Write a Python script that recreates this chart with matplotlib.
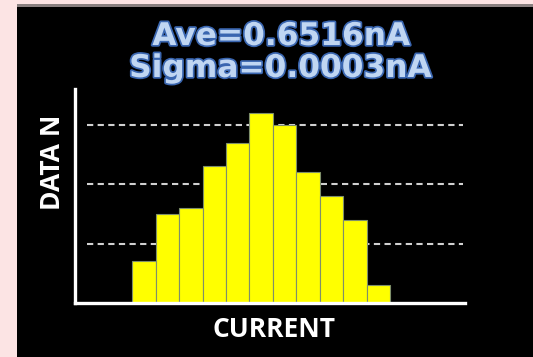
import matplotlib
matplotlib.use("Agg")
import matplotlib.pyplot as plt
import matplotlib.patheffects as pe
from matplotlib.patches import Rectangle

# ---- data ----
bins = list(range(11))
counts = [7, 15, 16, 23, 27, 32, 30, 22, 18, 14, 3]
grid_levels = [10, 20, 30]
title_lines = ["Ave=0.6516nA", "Sigma=0.0003nA"]
xlabel = "CURRENT"
ylabel = "DATA N"

W, H, DPI = 533, 357, 100
fig = plt.figure(figsize=(W / DPI, H / DPI), dpi=DPI, facecolor="#fce4e4")

def fx(px):
    return px / W

def fy(py):
    return 1 - py / H

# black panel + thin gray top border
fig.patches.append(Rectangle((fx(17), 0), 1 - fx(17), fy(7), transform=fig.transFigure,
                             facecolor="black", edgecolor="none", zorder=-10))
fig.patches.append(Rectangle((fx(17), fy(7)), 1 - fx(17), 3 / H, transform=fig.transFigure,
                             facecolor="#8a8080", edgecolor="none", zorder=-10))

# axes
left, right, bottom, top = 75, 465, 303, 89
ax = fig.add_axes([fx(left), fy(bottom), (right - left) / W, (bottom - top) / H])
ax.set_facecolor("none")
ax.set_xlim(-2.94, 13.69)
ax.set_ylim(0, 36)

for g in grid_levels:
    ax.axhline(g, xmin=0.031, xmax=0.995, color="#d0d0d0", lw=1.5,
               linestyle=(0, (3.0, 2.1)), zorder=1)

ax.bar(bins, counts, width=1.0, color="#ffff00", edgecolor="#7f8f6a", linewidth=0.8, zorder=2)

for s in ["top", "right"]:
    ax.spines[s].set_visible(False)
for s in ["left", "bottom"]:
    ax.spines[s].set_color("white")
    ax.spines[s].set_linewidth(2.4)
    ax.spines[s].set_zorder(3)
ax.set_xticks([])
ax.set_yticks([])

# labels
fig.text(fx(273.5), fy(329.5), xlabel, color="white", fontsize=19, fontfamily="Open Sans",
         fontweight="bold", ha="center", va="center")
fig.text(fx(53), fy(162), ylabel, color="white", fontsize=19, fontfamily="Open Sans",
         fontweight="bold", ha="center", va="center", rotation=90)

# title lines
effects = [pe.Stroke(linewidth=2.5, foreground="#3a66b0"), pe.Normal()]
fig.text(fx(281), fy(45), title_lines[0], color="#c0d6f2", fontsize=22.5,
         fontfamily="DejaVu Sans", fontweight="bold", ha="center", va="baseline",
         path_effects=effects)
fig.text(fx(280.5), fy(77), title_lines[1], color="#c0d6f2", fontsize=22.5,
         fontfamily="DejaVu Sans", fontweight="bold", ha="center", va="baseline",
         path_effects=effects)

fig.savefig("out.png", dpi=DPI, facecolor=fig.get_facecolor())
